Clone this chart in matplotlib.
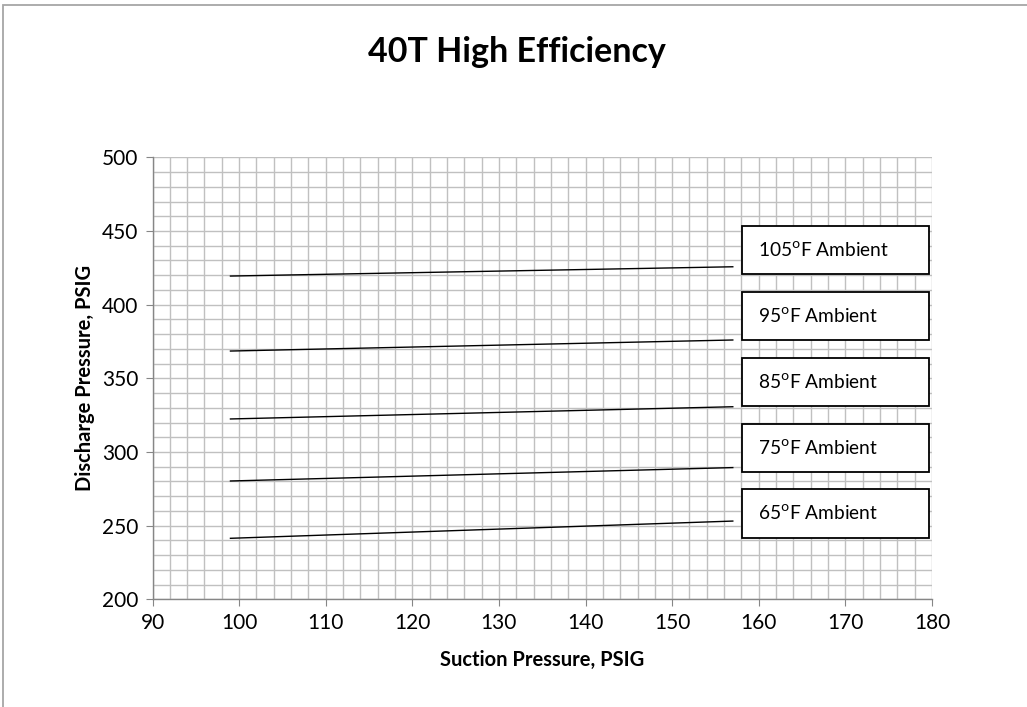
import matplotlib
matplotlib.use("Agg")
import matplotlib.pyplot as plt
from matplotlib.patches import Rectangle
from matplotlib.ticker import MultipleLocator

# Data
suction = [99, 157]
series_labels = ["105", "95", "85", "75", "65"]
discharge = {
    "105": [419.4, 425.7],
    "95": [368.5, 376.0],
    "85": [322.4, 330.7],
    "75": [280.3, 289.4],
    "65": [241.4, 253.1],
}
# label boxes (y range in data units)
box_ranges = {
    "105": (420.8, 453.4),
    "95": (376.0, 408.6),
    "85": (331.2, 363.8),
    "75": (286.4, 319.0),
    "65": (241.6, 274.8),
}
box_x = (158.1, 179.6)

title = "40T High Efficiency"
xlabel = "Suction Pressure, PSIG"
ylabel = "Discharge Pressure, PSIG"

FONT = ["Lato", "DejaVu Sans"]
plt.rcParams["font.family"] = FONT

W, H = 1027, 707
fig = plt.figure(figsize=(W / 100, H / 100), dpi=100)
fig.patch.set_facecolor("white")

# chart-area border (left and top edges visible)
fig.add_artist(Rectangle((3 / W, -0.5), 2.0, 1.5 - 5 / H, transform=fig.transFigure,
                         fill=False, edgecolor="#a6a6a6", linewidth=1.3))

ax = fig.add_axes([152.5 / W, 1 - 599.3 / H, (932 - 152.5) / W, (599.3 - 157.3) / H])
ax.set_xlim(90, 180)
ax.set_ylim(200, 500)
ax.xaxis.set_major_locator(MultipleLocator(10))
ax.xaxis.set_minor_locator(MultipleLocator(2))
ax.yaxis.set_major_locator(MultipleLocator(50))
ax.yaxis.set_minor_locator(MultipleLocator(10))
ax.grid(True, which="both", color="#c0c0c0", linewidth=1.0)
ax.set_axisbelow(True)
for s in ["top", "right"]:
    ax.spines[s].set_visible(False)
for s in ["left", "bottom"]:
    ax.spines[s].set_color("#868686")
    ax.spines[s].set_linewidth(1.0)
ax.tick_params(which="major", direction="out", length=5, color="#868686",
               labelsize=15, pad=5)
ax.tick_params(which="minor", length=0)

for key in series_labels:
    ax.plot(suction, discharge[key], color="black", linewidth=1.0)

for key in series_labels:
    y0, y1 = box_ranges[key]
    ax.add_patch(Rectangle((box_x[0], y0), box_x[1] - box_x[0], y1 - y0,
                           facecolor="white", edgecolor="black", linewidth=1.3, zorder=5))
    ax.text(box_x[0] + 1.85, (y0 + y1) / 2, key + "$^{\\mathrm{o}}$F Ambient",
            fontsize=13.8, va="center", ha="left", zorder=6)

fig.text(517 / W, 1 - 52 / H, title, fontsize=24.5, fontweight="bold",
         ha="center", va="center")
ax.set_xlabel(xlabel, fontsize=14.5, fontweight="bold", labelpad=12)
ax.set_ylabel(ylabel, fontsize=14.5, fontweight="bold", labelpad=5)

fig.savefig("out.png", dpi=100, facecolor="white")
